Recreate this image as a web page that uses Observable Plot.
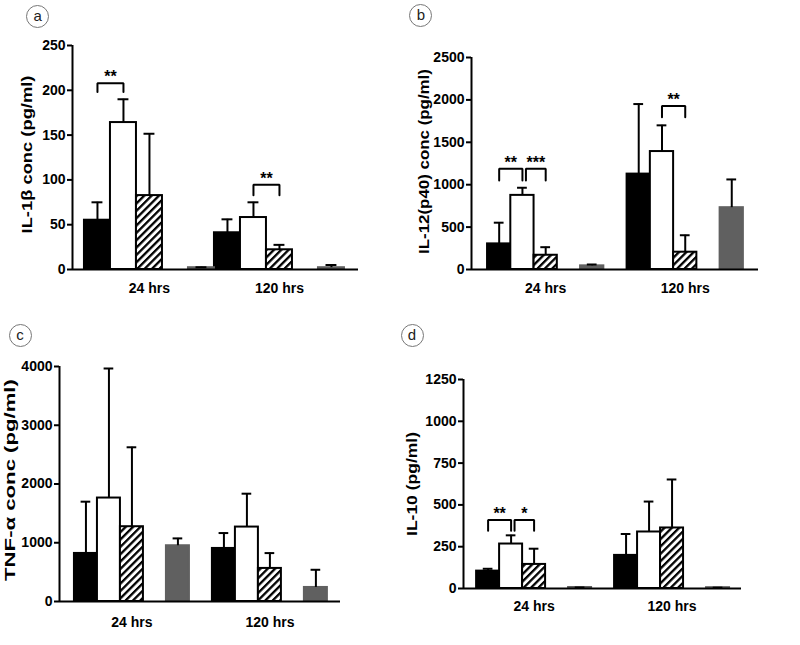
<!DOCTYPE html>
<html><head><meta charset="utf-8">
<script src="https://cdn.jsdelivr.net/npm/d3@7"></script>
<script src="https://cdn.jsdelivr.net/npm/@observablehq/plot@0.6"></script>
<style>
body{margin:0;background:#fff;}
#wrap{position:relative;width:800px;height:645px;overflow:hidden;background:#fff;}
.panel{position:absolute;}
.badge{position:absolute;width:21px;height:21px;border:1px solid #777;border-radius:50%;font:15px "Liberation Sans",Arial,sans-serif;color:#222;text-align:center;line-height:20px;}
</style></head><body><div id="wrap"></div>
<script>
// ---- data ----
const groups = ["24 hrs", "120 hrs"];
const series = ["solid", "open", "hatched", "grey"];

// a: IL-1β (pg/ml)
const il1bTicks = [0, 50, 100, 150, 200, 250];
const il1bMean = [[55, 164, 82.5, 2], [41, 58, 22, 2]];
const il1bTop  = [[75, 190, 151.5, 2.5], [56, 75, 27.5, 5]];
const il1bSig  = [
  {g: 0, from: 0, to: 1, top: 208, leg: 198, label: "**"},
  {g: 1, from: 1, to: 2, top: 94.5, leg: 83, label: "**"}
];

// b: IL-12(p40) (pg/ml)
const il12Ticks = [0, 500, 1000, 1500, 2000, 2500];
const il12Mean = [[302, 874, 168, 43], [1125, 1391, 204, 729]];
const il12Top  = [[552, 964, 263, 59], [1951, 1700, 404, 1062]];
const il12Sig  = [
  {g: 0, from: 0, to: 1, top: 1187, leg: 1050, label: "**"},
  {g: 0, from: 1, to: 2, top: 1187, leg: 1050, label: "***"},
  {g: 1, from: 1, to: 2, top: 1928, leg: 1795, label: "**"}
];

// c: TNF-α (pg/ml)
const tnfTicks = [0, 1000, 2000, 3000, 4000];
const tnfMean = [[818, 1761, 1273, 949], [903, 1267, 563, 239]];
const tnfTop  = [[1699, 3966, 2625, 1074], [1165, 1835, 824, 540]];
const tnfSig  = [];

// d: IL-10 (pg/ml)
const il10Ticks = [0, 250, 500, 750, 1000, 1250];
const il10Mean = [[104, 266, 144, 6], [198, 338, 362, 5]];
const il10Top  = [[118, 318, 238, 6], [326, 520, 652, 5]];
const il10Sig  = [
  {g: 0, from: 0, to: 1, top: 410, leg: 346, label: "**"},
  {g: 0, from: 1, to: 2, top: 410, leg: 346, label: "*"}
];

// ---- drawing ----
const FONT = '"Liberation Sans", Arial, Helvetica, sans-serif';
const ns = "http://www.w3.org/2000/svg";
const seriesOffset = [0, 1, 2, 4];

function addHatch(svg, id) {
  const defs = document.createElementNS(ns, "defs");
  const p = document.createElementNS(ns, "pattern");
  const s = 5.2;
  p.setAttribute("id", id);
  p.setAttribute("patternUnits", "userSpaceOnUse");
  p.setAttribute("width", s);
  p.setAttribute("height", s);
  p.setAttribute("patternTransform", "rotate(45)");
  const bg = document.createElementNS(ns, "rect");
  bg.setAttribute("width", s); bg.setAttribute("height", s); bg.setAttribute("fill", "#fff");
  const ln = document.createElementNS(ns, "rect");
  ln.setAttribute("width", 2.3); ln.setAttribute("height", s); ln.setAttribute("fill", "#000");
  p.appendChild(bg); p.appendChild(ln); defs.appendChild(p);
  svg.insertBefore(defs, svg.firstChild);
}

function panel(cfg) {
  const hatchId = "hatch-" + cfg.key;
  const rows = [];
  groups.forEach((g, gi) => series.forEach((s, si) => {
    const slot = cfg.starts[gi] + seriesOffset[si];
    rows.push({group: g, series: s, slot, mean: cfg.mean[gi][si], top: cfg.top[gi][si]});
  }));
  const center = (g, si) => cfg.starts[g] + seriesOffset[si] + 0.5;
  const brackets = cfg.sig.map(b => {
    const shared = cfg.sig.some(o => o !== b && o.g === b.g && o.to === b.from);
    return {...b, x1: center(b.g, b.from) + (shared ? 0.15 : 0), x2: center(b.g, b.to)};
  });
  const bracketPts = brackets.flatMap((b, i) => [
    {i, x: b.x1, y: b.leg}, {i, x: b.x1, y: b.top}, {i, x: b.x2, y: b.top}, {i, x: b.x2, y: b.leg}
  ]);
  const groupCenters = groups.map((g, gi) => cfg.starts[gi] + 2.5);
  const fills = {solid: "#000", open: "#fff", hatched: `url(#${hatchId})`, grey: "#606060"};
  const strokes = {solid: "#000", open: "#000", hatched: "#000", grey: "#606060"};
  const barMarks = series.map(s => Plot.rectY(rows.filter(r => r.series === s), {
    x1: "slot", x2: d => d.slot + 1, y1: 0, y2: "mean",
    fill: fills[s], stroke: strokes[s], strokeWidth: 2
  }));
  const svg = Plot.plot({
    width: 400, height: cfg.height,
    marginLeft: cfg.mL, marginRight: cfg.mR, marginTop: cfg.mT, marginBottom: cfg.mB,
    style: {fontFamily: FONT, background: "white", color: "black", overflow: "visible"},
    x: {domain: cfg.xDomain},
    y: {domain: [0, cfg.ticks[cfg.ticks.length - 1]]},
    marks: [
      ...barMarks,
      Plot.ruleX(rows, {x: d => d.slot + 0.5, y1: "mean", y2: "top", stroke: "#000", strokeWidth: 2}),
      Plot.ruleY(rows, {x1: d => d.slot + 0.29, x2: d => d.slot + 0.71, y: "top", stroke: "#000", strokeWidth: 2}),
      Plot.line(bracketPts, {x: "x", y: "y", z: "i", stroke: "#000", strokeWidth: 2, strokeLinejoin: "miter"}),
      Plot.text(brackets, {x: d => (d.x1 + d.x2) / 2, y: "top", text: "label", dy: -1, lineAnchor: "bottom", fontSize: 16, fontWeight: "bold"}),
      Plot.ruleY([0], {stroke: "#000", strokeWidth: 2}),
      Plot.ruleX([cfg.xDomain[0]], {stroke: "#000", strokeWidth: 2}),
      Plot.axisY(cfg.ticks, {tickSize: 5, tickPadding: 2, strokeWidth: 2, fontSize: 14, fontWeight: "bold", label: null,
        tickFormat: d => String(d)}),
      Plot.axisX(groupCenters, {tickSize: 0, tickPadding: cfg.xPad, fontSize: 14, fontWeight: "bold", label: null,
        tickFormat: d => groups[groupCenters.indexOf(d)]}),
      Plot.text([cfg.label], {text: d => d, frameAnchor: "left", dx: cfg.labelDx, dy: cfg.labelDy, rotate: -90,
        textAnchor: "middle", lineAnchor: "middle", fontSize: 15, fontWeight: "bold"})
    ]
  });
  addHatch(svg, hatchId);
  const div = document.createElement("div");
  div.className = "panel";
  div.style.left = cfg.left + "px"; div.style.top = cfg.topPx + "px";
  div.appendChild(svg);
  document.getElementById("wrap").appendChild(div);
  // stretch the rotated axis title along its reading direction to the reference length
  svg.querySelectorAll("text").forEach(t => {
    if (t.textContent === cfg.label) {
      const len = t.getComputedTextLength();
      if (len > 0) {
        const tr = t.getAttribute("transform") || "";
        t.setAttribute("transform", tr + ` scale(${cfg.labelLen / len},1)`);
      }
    }
  });
  const badge = document.createElement("div");
  badge.className = "badge";
  badge.textContent = cfg.key;
  badge.style.left = (cfg.badge[0] - 11.5) + "px";
  badge.style.top = (cfg.badge[1] - 11.5) + "px";
  document.getElementById("wrap").appendChild(badge);
}

panel({key: "a", left: 0, topPx: 0, height: 320, mL: 72, mR: 42, mT: 45, mB: 51,
  xDomain: [-0.46, 10.54], starts: [0, 5], ticks: il1bTicks, mean: il1bMean, top: il1bTop, sig: il1bSig,
  label: "IL-1β conc (pg/ml)", labelDx: -45.5, labelDy: -3, labelLen: 158, xPad: 14, badge: [37.7, 16]});
panel({key: "b", left: 400, topPx: 0, height: 320, mL: 71, mR: 42, mT: 57, mB: 51,
  xDomain: [-0.69, 11.65], starts: [0, 6], ticks: il12Ticks, mean: il12Mean, top: il12Top, sig: il12Sig,
  label: "IL-12(p40) conc (pg/ml)", labelDx: -47, labelDy: -2, labelLen: 185, xPad: 14, badge: [420.8, 15.8]});
panel({key: "c", left: 0, topPx: 320, height: 325, mL: 59, mR: 60, mT: 46, mB: 44,
  xDomain: [-0.65, 11.57], starts: [0, 6], ticks: tnfTicks, mean: tnfMean, top: tnfTop, sig: tnfSig,
  label: "TNF-α conc (pg/ml)", labelDx: -49, labelDy: -4, labelLen: 202, xPad: 16, badge: [20, 335]});
panel({key: "d", left: 400, topPx: 320, height: 325, mL: 63, mR: 59, mT: 59, mB: 57,
  xDomain: [-0.57, 11.52], starts: [0, 6], ticks: il10Ticks, mean: il10Mean, top: il10Top, sig: il10Sig,
  label: "IL-10 (pg/ml)", labelDx: -51, labelDy: 0, labelLen: 104, xPad: 13, badge: [412, 335]});
</script></body></html>
